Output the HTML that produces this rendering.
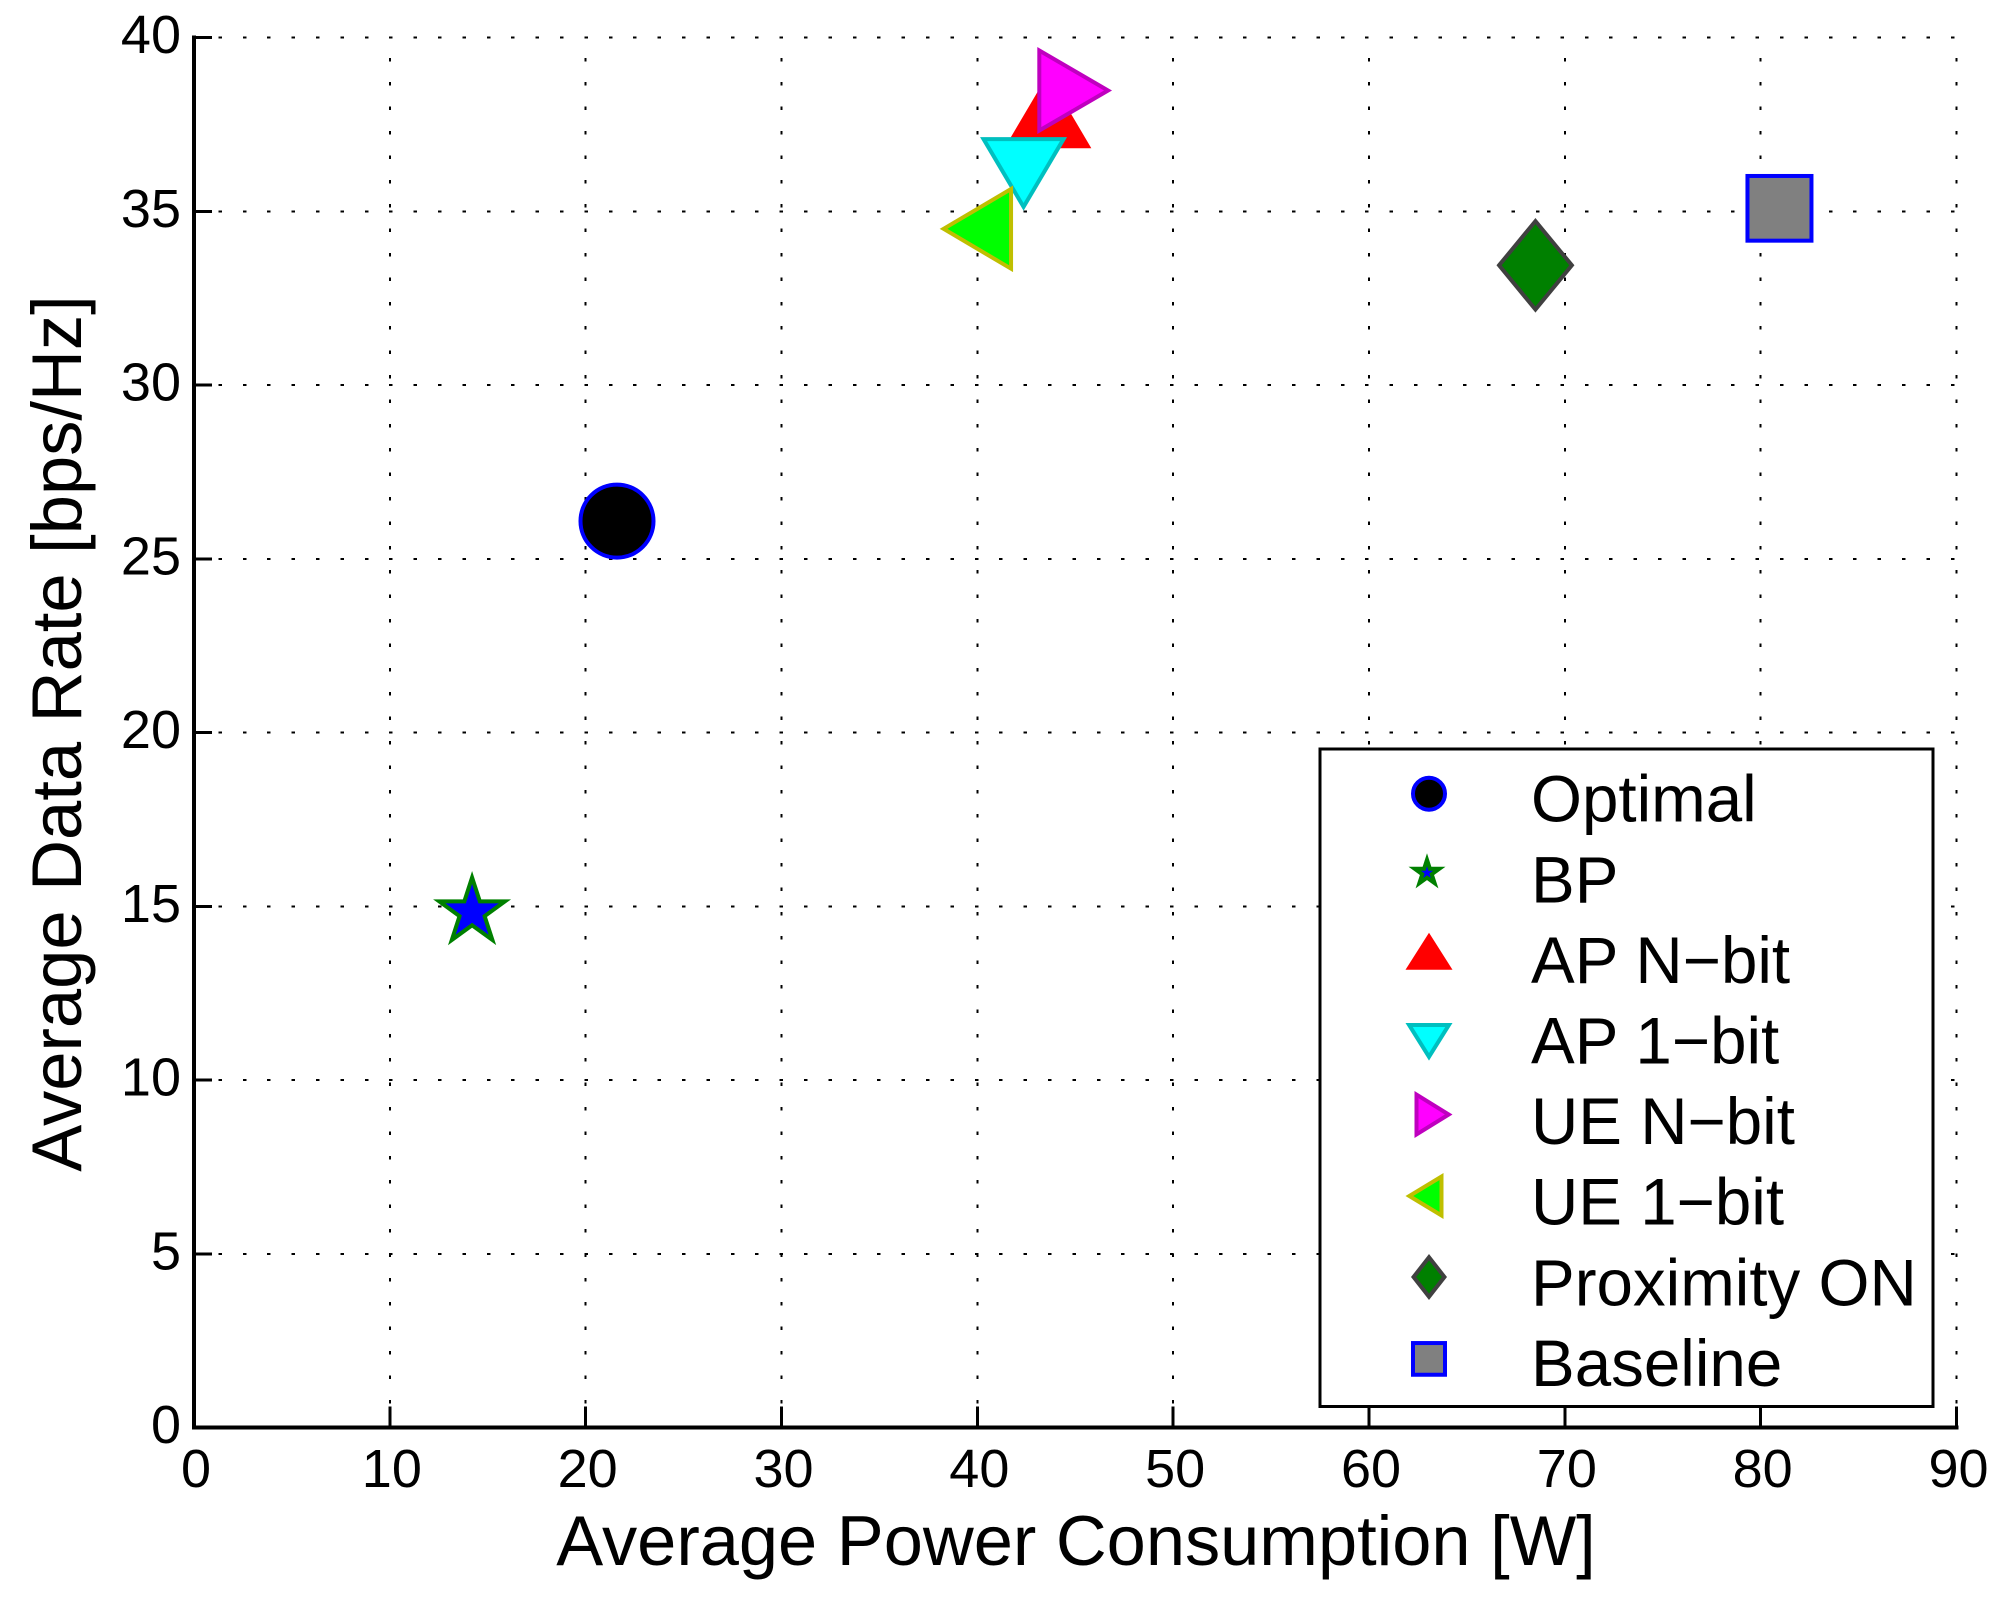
<!DOCTYPE html>
<html lang="en">
<head>
<meta charset="utf-8">
<title>Average Data Rate vs Average Power Consumption</title>
<style>
html,body{margin:0;padding:0;background:#fff;}
svg{display:block;}
text{font-family:"Liberation Sans",Arial,sans-serif;fill:#000;}
</style>
</head>
<body>
<svg id="chart" xmlns="http://www.w3.org/2000/svg" width="2008" height="1597" viewBox="0 0 2008 1597">
  <rect x="0" y="0" width="2008" height="1597" fill="#ffffff"/>
  <g id="grid"></g>
  <g id="series"></g>
  <g id="axes"></g>
  <text x="1076" y="1565" font-size="70.4" text-anchor="middle">Average Power Consumption [W]</text>
  <text transform="translate(81 733.5) rotate(-90)" font-size="70.5" text-anchor="middle">Average Data Rate [bps/Hz]</text>
  <g id="legend">
    <rect x="1320" y="749" width="613" height="657.5" fill="#ffffff" stroke="#000000" stroke-width="3"/>
  </g>
</svg>
<script>
const seriesNames = ["Optimal", "BP", "AP N\u2212bit", "AP 1\u2212bit", "UE N\u2212bit", "UE 1\u2212bit", "Proximity ON", "Baseline"];
const powerValues = [21.6, 14.2, 43.6, 42.36, 44.97, 39.95, 68.5, 80.96];
const rateValues = [26.09, 14.84, 37.88, 36.08, 38.48, 34.5, 33.45, 35.09];
const xTickValues = [0, 10, 20, 30, 40, 50, 60, 70, 80, 90];
const yTickValues = [0, 5, 10, 15, 20, 25, 30, 35, 40];

const NS = "http://www.w3.org/2000/svg";
const plot = { left: 194, right: 1956.5, top: 37.7, bottom: 1427.7, xMax: 90, yMax: 40 };
function xScale(v) { return plot.left + (v / plot.xMax) * (plot.right - plot.left); }
function yScale(v) { return plot.bottom - (v / plot.yMax) * (plot.bottom - plot.top); }

const styles = [
  { kind: "circle", fill: "#000000", edge: "#0000ff", big: [77, 77], small: [36, 36] },
  { kind: "star", fill: "#0000ff", edge: "#008000", big: [78, 72], small: [37, 42] },
  { kind: "up", fill: "#ff0000", edge: "#ff0000", big: [87, 73.7], small: [47, 37] },
  { kind: "down", fill: "#00ffff", edge: "#00bfbf", big: [87, 73.7], small: [47, 37.7] },
  { kind: "right", fill: "#ff00ff", edge: "#bf00bf", big: [74.7, 87], small: [38, 47] },
  { kind: "left", fill: "#00ff00", edge: "#bfbf00", big: [73.4, 86.7], small: [38, 46] },
  { kind: "diamond", fill: "#008000", edge: "#404040", big: [78, 94.7], small: [36, 46] },
  { kind: "square", fill: "#808080", edge: "#0000ff", big: [68, 68.7], small: [36, 35.7] }
];

function make(tag, attrs, parent) {
  const el = document.createElementNS(NS, tag);
  for (const k in attrs) el.setAttribute(k, attrs[k]);
  parent.appendChild(el);
  return el;
}

function trianglePoints(W, H, sw) {
  const a = Math.atan((W / 2) / H);
  const b = Math.PI / 2 - a;
  const hw = W / 2 - (sw / 2) / Math.tan(b / 2);
  const apex = -H / 2 + (sw / 2) / Math.sin(a);
  const base = H / 2 - sw / 2;
  return [[0, apex], [hw, base], [-hw, base]];
}

function markerShape(style, cx, cy, size, parent) {
  const W = size[0], H = size[1], sw = 4;
  const common = { fill: style.fill, stroke: style.edge, "stroke-width": sw, "stroke-miterlimit": 12 };
  if (style.kind === "circle") {
    return make("circle", Object.assign({ cx: cx, cy: cy, r: W / 2 - sw / 2 }, common), parent);
  }
  if (style.kind === "square") {
    return make("rect", Object.assign({ x: cx - W / 2 + sw / 2, y: cy - H / 2 + sw / 2, width: W - sw, height: H - sw }, common), parent);
  }
  let pts = [];
  if (style.kind === "up") pts = trianglePoints(W, H, sw);
  if (style.kind === "down") pts = trianglePoints(W, H, sw).map(p => [p[0], -p[1]]);
  if (style.kind === "right") pts = trianglePoints(H, W, sw).map(p => [-p[1], p[0]]);
  if (style.kind === "left") pts = trianglePoints(H, W, sw).map(p => [p[1], p[0]]);
  if (style.kind === "diamond") {
    const a = Math.atan((W / 2) / (H / 2));
    const hh = H / 2 - (sw / 2) / Math.sin(a);
    const hw = W / 2 - (sw / 2) / Math.cos(a);
    pts = [[0, -hh], [hw, 0], [0, hh], [-hw, 0]];
  }
  if (style.kind === "star") {
    const outer = W / (2 * Math.cos(Math.PI / 10));
    const R = outer - (sw / 2) / Math.sin(Math.PI / 10);
    const r = R * 0.382;
    for (let i = 0; i < 10; i++) {
      const ang = -Math.PI / 2 + i * Math.PI / 5;
      const rad = i % 2 === 0 ? R : r;
      pts.push([rad * Math.cos(ang), rad * Math.sin(ang)]);
    }
  }
  const str = pts.map(p => (cx + p[0]).toFixed(2) + "," + (cy + p[1]).toFixed(2)).join(" ");
  return make("polygon", Object.assign({ points: str }, common), parent);
}

const gridGroup = document.getElementById("grid");
const axesGroup = document.getElementById("axes");
const seriesGroup = document.getElementById("series");
const legendGroup = document.getElementById("legend");

xTickValues.forEach(function (v) {
  if (v === 0) return;
  const x = xScale(v);
  const line = make("line", { x1: x, y1: plot.bottom, x2: x, y2: plot.top, stroke: "#000", "stroke-width": 2, "stroke-dasharray": "3.5 20.9", "shape-rendering": "crispEdges" }, gridGroup);
  
  
});
yTickValues.forEach(function (v) {
  if (v === 0) return;
  const y = yScale(v);
  const line = make("line", { x1: plot.left, y1: y, x2: plot.right, y2: y, stroke: "#000", "stroke-width": 2, "stroke-dasharray": "3.5 20.9", "shape-rendering": "crispEdges" }, gridGroup);
  
  
});

seriesNames.forEach(function (name, i) {
  const shape = markerShape(styles[i], xScale(powerValues[i]), yScale(rateValues[i]), styles[i].big, seriesGroup);
  
  
});

const yAxisLine = make("line", { x1: plot.left, y1: plot.top - 2, x2: plot.left, y2: plot.bottom + 2, stroke: "#000", "stroke-width": 4, "shape-rendering": "crispEdges" }, axesGroup);


const xAxisLine = make("line", { x1: plot.left - 2, y1: plot.bottom, x2: plot.right + 2, y2: plot.bottom, stroke: "#000", "stroke-width": 4, "shape-rendering": "crispEdges" }, axesGroup);



xTickValues.forEach(function (v) {
  const x = xScale(v);
  if (v !== 0) {
    const tick = make("line", { x1: x, y1: plot.bottom, x2: x, y2: plot.bottom - 21, stroke: "#000", "stroke-width": 3, "shape-rendering": "crispEdges" }, axesGroup);
    
    
  }
  const label = make("text", { x: x + 2, y: 1487, "font-size": 54, "text-anchor": "middle" }, axesGroup);
  label.textContent = String(v);
  
  
});

yTickValues.forEach(function (v) {
  const y = yScale(v);
  if (v !== 0) {
    const tick = make("line", { x1: plot.left, y1: y, x2: plot.left + 18, y2: y, stroke: "#000", "stroke-width": 3, "shape-rendering": "crispEdges" }, axesGroup);
    
    
  }
  const label = make("text", { x: 181, y: y + 15.5, "font-size": 54, "text-anchor": "end" }, axesGroup);
  label.textContent = String(v);
  
  
});

const legendTop = 821.7, legendStep = 80.6;
const legendMarkerOffsets = [-28, -29.6, -31.7, -21.7, -29.6, -28.7, -28.3, -27];
const legendMarkerX = [1429, 1427, 1429, 1429, 1433.5, 1424.5, 1429, 1429];
seriesNames.forEach(function (name, i) {
  const slug = name.toLowerCase().replace(/[^a-z0-9]+/g, '-');
  const baseline = legendTop + i * legendStep;
  const entry = make("g", {}, legendGroup);
  
  
  const swatch = markerShape(styles[i], legendMarkerX[i], baseline + legendMarkerOffsets[i], styles[i].small, entry);
  
  
  const label = make("text", { x: 1531, y: baseline, "font-size": 65.5 }, entry);
  label.textContent = name;
  
  
});
</script>
</body>
</html>
